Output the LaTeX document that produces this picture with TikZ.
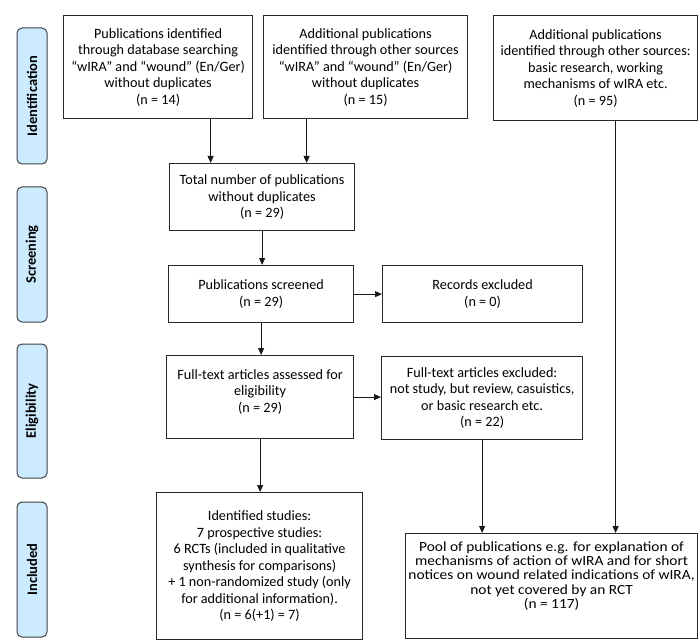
\documentclass[tikz,border=0pt]{standalone}
\usepackage{fontspec}
\setmainfont{Carlito}
\newfontfamily\poolfont{Carlito}[FakeStretch=1.1]
\usetikzlibrary{arrows.meta}
\definecolor{phasefill}{RGB}{204,235,255}
\definecolor{boxline}{RGB}{40,40,40}
\begin{document}
\begin{tikzpicture}[x=1pt,y=-1pt,
  box/.style={draw=boxline, line width=1.2pt, align=center, inner sep=0pt,
    anchor=north west, font=\fontsize{14.2}{16.5}\selectfont},
  phase/.style={draw=black!75, line width=1pt, fill=phasefill, rounded corners=5pt,
    rotate=90, minimum height=30pt, inner sep=0pt,
    font=\fontsize{14.5}{16}\selectfont\bfseries},
  link/.style={-{Triangle[length=7pt,width=6pt]}, line width=0.9pt, draw=black!90}]
\path[use as bounding box] (0,0) rectangle (698,644);

% phase bars
\node[phase, minimum width=136pt] (P1) at (32,96) {Identification};
\node[phase, minimum width=135pt] (P2) at (32,254.5) {Screening};
\node[phase, minimum width=134pt] (P3) at (32,411) {Eligibility};
\node[phase, minimum width=135pt] (P4) at (32,569.5) {Included};

% boxes
\node[box, minimum width=189pt, minimum height=103pt] (B1) at (63,15)
  {Publications identified\\ through database searching\\ “wIRA” and “wound” (En/Ger)\\ without duplicates\\ (n = 14)};
\node[box, minimum width=204pt, minimum height=103pt] (B2) at (263,15)
  {Additional publications\\ identified through other sources\\ “wIRA” and “wound” (En/Ger)\\ without duplicates\\ (n = 15)};
\node[box, minimum width=204pt, minimum height=105pt] (B3) at (493,15)
  {Additional publications\\ identified through other sources:\\ basic research, working\\ mechanisms of wIRA etc.\\ (n = 95)};
\node[box, minimum width=185pt, minimum height=67pt] (Tot) at (169,163)
  {Total number of publications\\ without duplicates\\ (n = 29)};
\node[box, minimum width=185pt, minimum height=57pt] (Scr) at (168,265)
  {Publications screened\\ (n = 29)};
\node[box, minimum width=200pt, minimum height=57pt] (Rec) at (382,265)
  {Records excluded\\ (n = 0)};
\node[box, minimum width=187pt, minimum height=83pt] (FT) at (166,355)
  {Full-text articles assessed for\\ eligibility\\ (n = 29)\\[-4pt]\mbox{}};
\node[box, minimum width=201pt, minimum height=83pt] (FTex) at (381,356)
  {Full-text articles excluded:\\ not study, but review, casuistics,\\ or basic research etc.\\ (n = 22)};
\node[box, minimum width=206pt, minimum height=147pt] (Id) at (156,492)
  {Identified studies:\\ 7 prospective studies:\\ 6 RCTs (included in qualitative\\ synthesis for comparisons)\\ + 1 non-randomized study (only\\ for additional information).\\ (n = 6(+1) = 7)};
\node[box, minimum width=292pt, minimum height=105pt, font=\poolfont\fontsize{14}{14.2}\selectfont] (Pool) at (405,533)
  {Pool of publications e.g. for explanation of\\ mechanisms of action of wIRA and for short\\ notices on wound related indications of wIRA,\\ not yet covered by an RCT\\ (n = 117)\\[8pt]\mbox{}};

% connectors
\draw[link] ([xshift=52.5pt]B1.south) -- ([xshift=52.5pt]B1.south |- Tot.north);
\draw[link] ([xshift=-59pt]B2.south) -- ([xshift=-59pt]B2.south |- Tot.north);
\draw[link] (Tot.south) -- (Tot.south |- Scr.north);
\draw[link] (Scr.east) -- (Scr.east -| Rec.west);
\draw[link] (Scr.south) -- (Scr.south |- FT.north);
\draw[link] (FT.east) -- (FT.east -| FTex.west);
\draw[link] (FT.south) -- (FT.south |- Id.north);
\draw[link] (FTex.south) -- (FTex.south |- Pool.north);
\draw[link] ([xshift=20pt]B3.south) -- ([xshift=20pt]B3.south |- Pool.north);
\end{tikzpicture}
\end{document}
